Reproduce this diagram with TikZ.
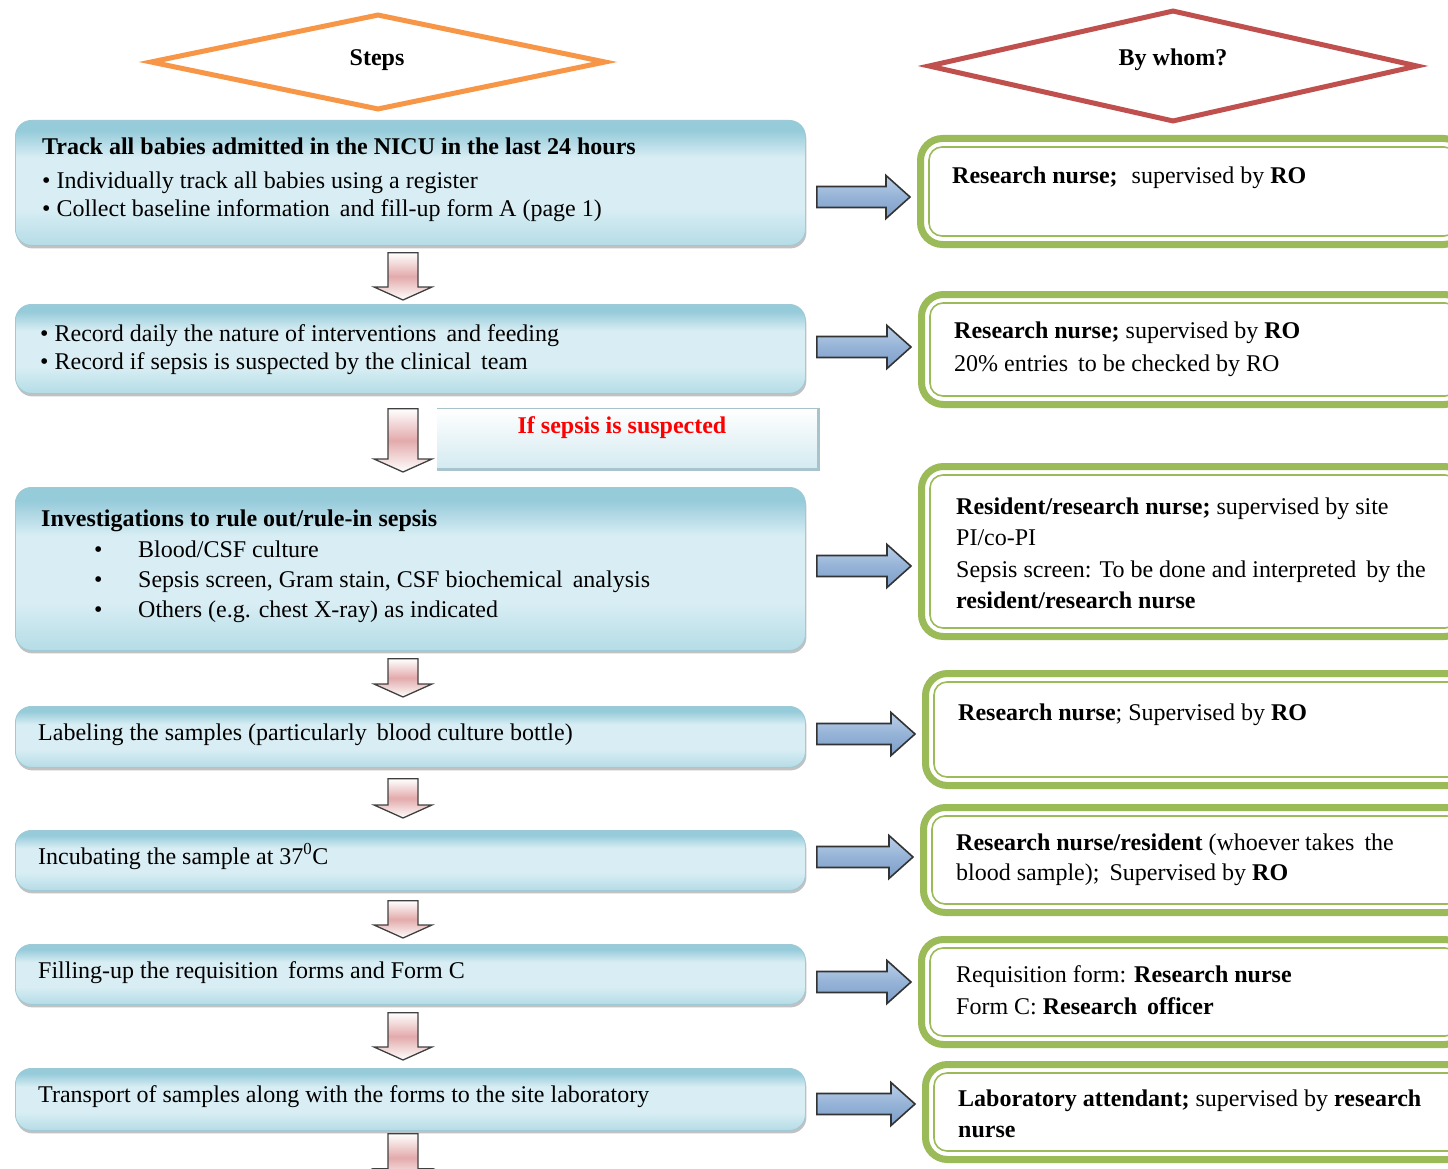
\documentclass[tikz,border=0pt]{standalone}
\usepackage{fontspec}
\setmainfont{Liberation Serif}
\usetikzlibrary{shapes.geometric,shadows,calc}
\definecolor{gA}{HTML}{9BBB59}
\definecolor{orA}{HTML}{F79646}
\definecolor{rdA}{HTML}{C0504D}
\definecolor{bTop}{HTML}{96CBDA}
\definecolor{bMid}{HTML}{D9EEF4}
\definecolor{bBot}{HTML}{B5DCE6}
\definecolor{bEdge}{HTML}{9DCAD6}
\definecolor{arB}{HTML}{95B3D7}
\definecolor{arT}{HTML}{BCD0E8}
\definecolor{arD}{HTML}{7E9DC8}
\definecolor{pk}{HTML}{E3AAAB}
\definecolor{sepB}{HTML}{D3EAF1}
\definecolor{sepE}{HTML}{A9C3CD}
\pgfdeclareverticalshading{bluesh}{100bp}{color(0bp)=(bBot); color(25bp)=(bBot); color(40bp)=(bMid); color(60bp)=(bMid); color(71bp)=(bTop); color(75bp)=(bTop); color(100bp)=(bTop)}
\newcommand\dnarrow[4]{%
 \path[dnarr] let \p1=(#1.south), \p2=(#2.north) in
 (388pt,\y1-#3pt) -- (418pt,\y1-#3pt) -- (418pt,\y2+#4pt+13pt) -- (432pt,\y2+#4pt+13pt)
 -- (403pt,\y2+#4pt) -- (374pt,\y2+#4pt+13pt) -- (388pt,\y2+#4pt+13pt) -- cycle;}
\newcommand\rtarrow[3]{%
 \path[rtarr] let \p1=(#1.east), \p2=(#2.west) in
 (\x1+11pt,-#3pt+10.5pt) -- (\x2-31pt,-#3pt+10.5pt) -- (\x2-31pt,-#3pt+21.5pt) -- (\x2-7pt,-#3pt)
 -- (\x2-31pt,-#3pt-21.5pt) -- (\x2-31pt,-#3pt-10.5pt) -- (\x1+11pt,-#3pt-10.5pt) -- cycle;}
\newcommand\ginner[1]{\draw[ginl] ($(#1.north west)+(12,12)$) rectangle ($(#1.south east)+(-12,-12)$);}
\begin{document}
\begin{tikzpicture}[x=1pt,y=-1pt,
  every node/.style={font=\fontsize{24}{28}\selectfont},
  bbox/.style={shade, shading=bluesh, rounded corners=16, draw=bEdge, line width=0.8,
     anchor=north west, minimum width=790, inner sep=0,
     drop shadow={shadow xshift=1pt, shadow yshift=-3pt, opacity=0.35, fill=black!70}},
  gbox/.style={draw=gA, line width=7, rounded corners=22, fill=white, anchor=north west,
     minimum width=545, inner sep=0},
  ginl/.style={draw=gA, line width=1.6, rounded corners=13},
  tx/.style={anchor=base west, inner sep=0, text=black},
  dnarr/.style={draw=black!75, line width=1.3, top color=white, bottom color=white, middle color=pk},
  rtarr/.style={draw=black!80, line width=1.6, top color=arT, bottom color=arD, middle color=arB},
  dia/.style={diamond, line width=5, inner sep=0, fill=white}
]
\useasboundingbox (0,0) rectangle (1448,1169);
\clip (0,0) rectangle (1448,1169);

% headers
\node[dia, draw=orA, minimum width=456, minimum height=96] (steps) at (378,62) {};
\node (stepst) at (377,60) {\textbf{Steps}};
\node[dia, draw=rdA, minimum width=490, minimum height=112] (whom) at (1173,66) {};
\node (whomt) at (1173,60) {\textbf{By whom?}};

% left boxes
\node[bbox, minimum height=125] (b1) at (15,120) {};
\node[bbox, minimum height=89] (b2) at (15,304) {};
\node[bbox, minimum height=163] (b3) at (15,487) {};
\node[bbox, minimum height=61] (b4) at (15,706) {};
\node[bbox, minimum height=60] (b5) at (15,830) {};
\node[bbox, minimum height=60] (b6) at (15,944) {};
\node[bbox, minimum height=62] (b7) at (15,1068) {};
\node[inner sep=0, minimum size=0] (endc) at (410,1182) {};

% if sepsis box
\node[top color=white, bottom color=sepB, anchor=north west, minimum width=381, minimum height=61, inner sep=0] (sep) at (437,408) {};
\draw[sepE, line width=0.6] (sep.north west) -- (sep.north east);
\draw[sepE, line width=2.2] (sep.north east) -- (sep.south east) -- (sep.south west);
\node[text=red] (sept) at (622,428) {\textbf{If sepsis is suspected}};

% texts in left boxes
\node[tx] (t1a) at (42,155) {\textbf{Track all babies admitted in the NICU in the last 24 hours}};
\node[tx] (t1b) at (42,189) {• Individually track all babies using a register};
\node[tx] (t1c) at (42,217) {• Collect baseline information\, and fill-up form A (page 1)};
\node[tx] (t2a) at (40,341) {• Record daily the nature of interventions\, and feeding};
\node[tx] (t2b) at (40,369) {• Record if sepsis is suspected by the clinical\, team};
\node[tx] (t3a) at (41,526) {\textbf{Investigations to rule out/rule-in sepsis}};
\node[tx] (t3b) at (94,557) {•};
\node[tx] (t3c) at (138,557) {Blood/CSF culture};
\node[tx] (t3d) at (94,587) {•};
\node[tx] (t3e) at (138,587) {Sepsis screen, Gram stain, CSF biochemical\, analysis};
\node[tx] (t3f) at (94,617) {•};
\node[tx] (t3g) at (138,617) {Others (e.g. chest X-ray) as indicated};
\node[tx] (t4) at (38,740) {Labeling the samples (particularly\, blood culture bottle)};
\node[tx] (t5) at (38,864) {Incubating the sample at 37\textsuperscript{0}C};
\node[tx] (t6) at (38,978) {Filling-up the requisition\, forms and Form C};
\node[tx] (t7) at (38,1102) {Transport of samples along with the forms to the site laboratory};

% right boxes
\node[gbox, minimum height=106] (g1) at (917,135) {};
\node[gbox, minimum height=110] (g2) at (918,291) {};
\node[gbox, minimum height=170] (g3) at (918,463) {};
\node[gbox, minimum height=112] (g4) at (922,670) {};
\node[gbox, minimum height=105] (g5) at (920,804) {};
\node[gbox, minimum height=105] (g6) at (918,936) {};
\node[gbox, minimum height=95] (g7) at (922,1061) {};
\ginner{g1}\ginner{g2}\ginner{g3}\ginner{g4}\ginner{g5}\ginner{g6}\ginner{g7}

\node[tx] (r1) at (952,184) {\textbf{Research nurse;}\,\, supervised by \textbf{RO}};
\node[tx] (r2a) at (954,338) {\textbf{Research nurse;} supervised by \textbf{RO}};
\node[tx] (r2b) at (954,371) {20\% entries\, to be checked by RO};
\node[tx] (r3a) at (956,514) {\textbf{Resident/research nurse;} supervised by site};
\node[tx] (r3b) at (956,545) {PI/co-PI};
\node[tx] (r3c) at (956,577) {Sepsis screen: To be done and interpreted\, by the};
\node[tx] (r3d) at (956,608) {\textbf{resident/research nurse}};
\node[tx] (r4) at (958,720) {\textbf{Research nurse}; Supervised by \textbf{RO}};
\node[tx] (r5a) at (956,850) {\textbf{Research nurse/resident} (whoever takes\, the};
\node[tx] (r5b) at (956,880) {blood sample);\, Supervised by \textbf{RO}};
\node[tx] (r6a) at (956,982) {Requisition form: \textbf{Research nurse}};
\node[tx] (r6b) at (956,1014) {Form C: \textbf{Research\, officer}};
\node[tx] (r7a) at (958,1106) {\textbf{Laboratory attendant;} supervised by \textbf{research}};
\node[tx] (r7b) at (958,1137) {\textbf{nurse}};

% down arrows
\dnarrow{b1}{b2}{7}{4}
\dnarrow{b2}{b3}{15}{15}
\dnarrow{b3}{b4}{8}{9}
\dnarrow{b4}{b5}{11}{12}
\dnarrow{b5}{b6}{10}{6}
\dnarrow{b6}{b7}{8}{8}
\dnarrow{b7}{endc}{3}{0}

% right arrows
\rtarrow{b1}{g1}{197}
\rtarrow{b2}{g2}{347}
\rtarrow{b3}{g3}{566}
\rtarrow{b4}{g4}{734}
\rtarrow{b5}{g5}{857}
\rtarrow{b6}{g6}{982}
\rtarrow{b7}{g7}{1104}
\end{tikzpicture}
\end{document}
